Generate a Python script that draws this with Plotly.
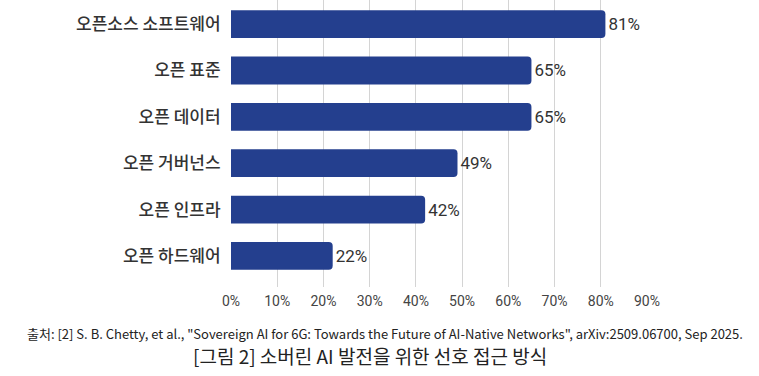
import plotly.graph_objects as go

categories = ["오픈소스 소프트웨어", "오픈 표준", "오픈 데이터", "오픈 거버넌스", "오픈 인프라", "오픈 하드웨어"]
values = [81, 65, 65, 49, 42, 22]
tick_vals = [0, 10, 20, 30, 40, 50, 60, 70, 80, 90]
tick_text = [f"{v}%" for v in tick_vals]
source_text = '출처: [2] S. B. Chetty, et al., "Sovereign AI for 6G: Towards the Future of AI-Native Networks", arXiv:2509.06700, Sep 2025.'
caption_text = "[그림 2] 소버린 AI 발전을 위한 선호 접근 방식"

W, H = 759, 376
L, R, T, B = 231, 112, 0, 89
plot_w = W - L - R
plot_h = H - T - B

fig = go.Figure(go.Bar(
    x=values,
    y=categories,
    orientation="h",
    marker=dict(color="#243F8E", line=dict(width=0)),
    width=0.6,
    text=[f"{v}%" for v in values],
    textposition="outside",
    constraintext="none",
    textfont=dict(family="Roboto, Noto Sans CJK KR", size=17, color="#333333"),
    cliponaxis=False,
))

def paper_x(px):
    return (px - L) / plot_w

def paper_y(py):
    return (H - B - py) / plot_h

fig.update_layout(
    width=W, height=H,
    margin=dict(l=L, r=R, t=T, b=B, autoexpand=False),
    plot_bgcolor="white", paper_bgcolor="white",
    barcornerradius=4,
    showlegend=False,
    xaxis=dict(
        range=[0, 90], tickvals=tick_vals, ticktext=tick_text,
        automargin=False,
        showgrid=True, gridcolor="#d4d4d4", gridwidth=1,
        zeroline=False, showline=False,
        ticks="outside", ticklen=1, tickcolor="rgba(0,0,0,0)",
        tickfont=dict(family="Roboto, Noto Sans CJK KR", size=14, color="#444444"),
    ),
    yaxis=dict(
        categoryorder="array", categoryarray=categories,
        range=[5.67, -0.52], automargin=False,
        showgrid=False, zeroline=False, showline=False,
        ticks="outside", ticklen=6, tickcolor="rgba(0,0,0,0)",
        tickfont=dict(family="Noto Sans CJK KR", size=17, weight=500, color="#333333"),
    ),
    annotations=[
        dict(text=source_text, xref="paper", yref="paper",
             x=paper_x(25), y=paper_y(333), xanchor="left", yanchor="middle",
             showarrow=False,
             font=dict(family="Noto Sans CJK KR", size=13, color="#222222")),
        dict(text=caption_text, xref="paper", yref="paper",
             x=paper_x(370), y=paper_y(355), xanchor="center", yanchor="middle",
             showarrow=False,
             font=dict(family="Noto Sans CJK KR", size=19, color="#222222")),
    ],
)

fig.write_html("out.html", config={"displayModeBar": False},
               post_script="document.body.style.margin='0';")
